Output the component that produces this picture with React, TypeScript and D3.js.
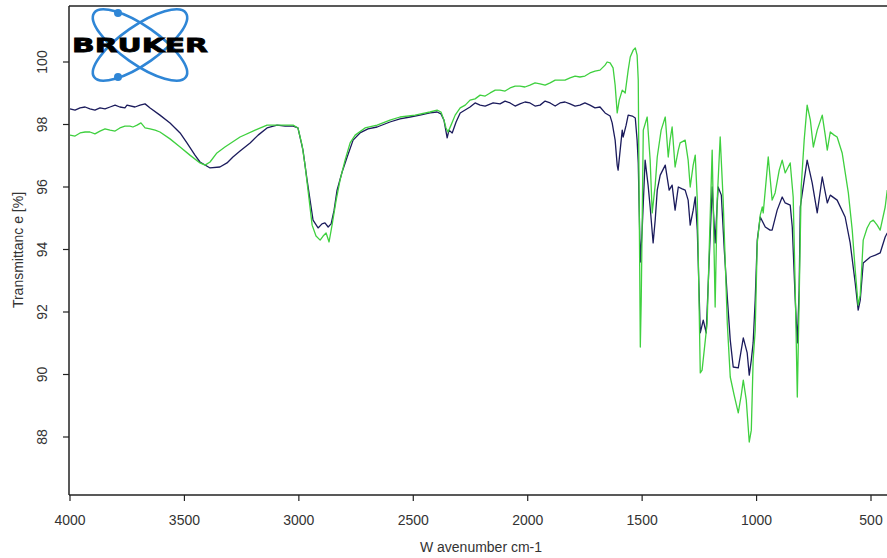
import React from 'react';
import * as d3 from 'd3';

// Wavenumber (cm-1) / transmittance (%) pairs for the two FTIR spectra
const spectrumNavy: [number, number][] = [
  [4000, 98.5], [3978, 98.46], [3956, 98.53], [3934, 98.56], [3913, 98.5], [3891, 98.46],
  [3869, 98.53], [3847, 98.5], [3825, 98.56], [3803, 98.62], [3782, 98.56], [3760, 98.53],
  [3751, 98.62], [3716, 98.56], [3694, 98.62], [3672, 98.66], [3650, 98.53], [3607, 98.3],
  [3563, 98.05], [3519, 97.73], [3489, 97.41], [3454, 97.02], [3432, 96.8], [3388, 96.61],
  [3345, 96.64], [3314, 96.77], [3288, 96.96], [3257, 97.15], [3213, 97.41], [3178, 97.66],
  [3139, 97.89], [3095, 97.98], [3060, 97.95], [3025, 97.95], [3004, 97.89], [2982, 97.18],
  [2964, 96.22], [2938, 94.94], [2916, 94.69], [2899, 94.82], [2886, 94.85], [2872, 94.72],
  [2859, 94.82], [2846, 95.26], [2833, 95.9], [2811, 96.48], [2789, 96.96], [2763, 97.5],
  [2733, 97.73], [2698, 97.86], [2658, 97.92], [2602, 98.08], [2558, 98.18], [2514, 98.24],
  [2471, 98.3], [2427, 98.37], [2396, 98.4], [2379, 98.34], [2366, 98.14], [2352, 97.57],
  [2344, 97.82], [2330, 97.73], [2313, 98.08], [2295, 98.37], [2252, 98.56], [2230, 98.69],
  [2208, 98.62], [2186, 98.59], [2151, 98.69], [2121, 98.66], [2099, 98.75], [2077, 98.69],
  [2055, 98.59], [2034, 98.66], [2012, 98.72], [1990, 98.69], [1968, 98.59], [1946, 98.62],
  [1924, 98.75], [1902, 98.69], [1880, 98.59], [1859, 98.69], [1837, 98.72], [1815, 98.66],
  [1793, 98.59], [1772, 98.62], [1750, 98.69], [1728, 98.62], [1706, 98.53], [1684, 98.56],
  [1662, 98.37], [1640, 98.27], [1631, 98.05], [1618, 97.5], [1609, 96.7], [1605, 96.54],
  [1596, 97.18], [1587, 97.82], [1583, 97.6], [1570, 97.98], [1561, 98.3], [1543, 98.27],
  [1530, 98.21], [1522, 97.5], [1517, 96.77], [1508, 93.6], [1500, 94.62], [1487, 96.86],
  [1474, 96.06], [1465, 95.36], [1452, 94.21], [1443, 94.94], [1434, 95.9], [1421, 96.38],
  [1399, 96.7], [1382, 95.9], [1369, 96.06], [1356, 95.26], [1342, 96.0], [1325, 95.94],
  [1312, 95.9], [1299, 95.58], [1290, 94.78], [1277, 95.26], [1268, 95.68], [1259, 94.62],
  [1246, 91.33], [1233, 91.74], [1220, 91.33], [1207, 93.66], [1194, 96.0], [1181, 94.21],
  [1168, 96.0], [1154, 95.74], [1141, 93.98], [1128, 92.48], [1115, 91.1], [1102, 90.24],
  [1080, 90.21], [1058, 91.17], [1041, 90.69], [1032, 89.98], [1023, 90.46], [1015, 91.01],
  [1006, 92.38], [997, 94.3], [984, 95.04], [962, 94.72], [941, 94.62], [932, 94.62],
  [910, 95.26], [888, 95.68], [875, 95.49], [853, 95.42], [844, 94.72], [831, 92.38],
  [822, 91.01], [814, 92.7], [809, 95.36], [792, 96.22], [779, 96.86], [757, 96.13],
  [735, 95.17], [713, 96.32], [691, 95.49], [678, 95.74], [648, 95.58], [613, 95.04],
  [591, 94.21], [569, 92.93], [556, 92.06], [547, 92.38], [534, 93.57], [503, 93.76],
  [481, 93.82], [460, 93.89], [438, 94.4], [429, 94.53],
];

const spectrumGreen: [number, number][] = [
  [4000, 97.66], [3978, 97.63], [3956, 97.73], [3934, 97.76], [3913, 97.76], [3891, 97.7],
  [3869, 97.79], [3847, 97.86], [3825, 97.82], [3803, 97.79], [3782, 97.89], [3760, 97.95],
  [3738, 97.95], [3725, 97.92], [3707, 97.98], [3690, 98.05], [3672, 97.89], [3650, 97.86],
  [3628, 97.82], [3607, 97.76], [3563, 97.54], [3519, 97.28], [3476, 97.02], [3432, 96.77],
  [3410, 96.7], [3388, 96.8], [3358, 97.09], [3323, 97.28], [3257, 97.6], [3191, 97.82],
  [3139, 97.98], [3082, 97.98], [3025, 97.98], [3004, 97.89], [2986, 97.34], [2973, 96.7],
  [2960, 95.9], [2942, 94.78], [2925, 94.43], [2907, 94.3], [2894, 94.43], [2881, 94.53],
  [2868, 94.24], [2855, 94.78], [2837, 95.58], [2820, 96.22], [2798, 96.86], [2776, 97.41],
  [2754, 97.66], [2711, 97.89], [2658, 97.98], [2602, 98.14], [2558, 98.24], [2492, 98.3],
  [2427, 98.4], [2396, 98.46], [2379, 98.4], [2366, 98.14], [2357, 97.89], [2348, 97.76],
  [2335, 97.98], [2317, 98.3], [2295, 98.53], [2273, 98.62], [2252, 98.78], [2230, 98.82],
  [2208, 98.94], [2186, 98.91], [2164, 99.01], [2142, 99.1], [2121, 99.1], [2099, 99.07],
  [2077, 99.17], [2055, 99.23], [2034, 99.23], [2012, 99.2], [1990, 99.26], [1968, 99.33],
  [1946, 99.3], [1924, 99.26], [1902, 99.33], [1880, 99.42], [1859, 99.42], [1837, 99.42],
  [1815, 99.49], [1793, 99.55], [1772, 99.52], [1750, 99.55], [1728, 99.65], [1706, 99.71],
  [1684, 99.74], [1662, 99.9], [1653, 100.0], [1640, 99.97], [1627, 99.81], [1618, 99.26],
  [1609, 98.37], [1600, 98.78], [1587, 99.1], [1574, 99.01], [1561, 99.74], [1552, 100.16],
  [1539, 100.38], [1530, 100.45], [1522, 100.22], [1517, 99.42], [1513, 95.58], [1508, 90.88],
  [1504, 92.38], [1495, 97.82], [1478, 98.24], [1465, 96.86], [1456, 95.17], [1443, 96.06],
  [1434, 96.96], [1417, 97.82], [1399, 98.24], [1386, 96.96], [1378, 97.5], [1369, 97.92],
  [1356, 96.64], [1342, 97.18], [1334, 97.41], [1312, 97.5], [1299, 96.86], [1290, 96.0],
  [1277, 96.7], [1268, 97.02], [1259, 95.58], [1246, 90.05], [1238, 90.14], [1224, 91.1],
  [1216, 91.65], [1207, 93.98], [1194, 97.18], [1181, 92.16], [1172, 95.58], [1159, 97.6],
  [1146, 95.58], [1128, 91.65], [1115, 89.92], [1098, 89.34], [1080, 88.77], [1067, 89.34],
  [1058, 89.82], [1045, 89.18], [1032, 87.84], [1023, 88.22], [1015, 90.46], [1006, 91.42],
  [997, 94.21], [984, 95.1], [975, 95.36], [971, 95.17], [958, 96.22], [949, 96.96],
  [932, 95.58], [919, 95.81], [901, 96.54], [888, 96.86], [875, 96.45], [853, 96.77],
  [840, 95.68], [831, 92.7], [822, 89.28], [814, 92.38], [805, 96.0], [792, 97.5],
  [779, 98.62], [765, 98.14], [752, 97.28], [735, 97.82], [713, 98.3], [700, 97.66],
  [691, 97.18], [678, 97.76], [661, 97.66], [648, 97.6], [626, 97.09], [599, 95.81],
  [582, 94.62], [569, 93.34], [556, 92.22], [547, 92.54], [534, 94.3], [517, 94.69],
  [503, 94.88], [490, 94.94], [473, 94.78], [460, 94.62], [438, 95.36], [429, 95.9],
];

const xTickValues = [4000, 3500, 3000, 2500, 2000, 1500, 1000, 500];
const yTickValues = [88, 90, 92, 94, 96, 98, 100];
const xTitle = 'W avenumber cm-1';
const yTitle = 'Transmittanc e [%]';
const brand = 'BRUKER';

const WIDTH = 887;
const HEIGHT = 558;
const plotLeft = 69;
const plotTop = 6;
const plotBottom = 495;
const plotRight = 900;

const x = d3.scaleLinear().domain([4000, 500]).range([70, 871]);
const y = d3.scaleLinear().domain([88, 100]).range([437, 62]);

const line = d3
  .line<[number, number]>()
  .x((d) => x(d[0]))
  .y((d) => y(d[1]))
  .curve(d3.curveLinear);

const byWavenumber = (a: [number, number], b: [number, number]) => b[0] - a[0];

const tickFont = '"Liberation Sans Narrow", "Liberation Sans", Arial, sans-serif';

function Logo() {
  const cx = 140;
  const cy = 45;
  return (
    <g>
      <ellipse cx={cx} cy={cy} rx={56} ry={19} fill="none" stroke="#2f86d6" strokeWidth={2.6}
        transform={`rotate(35 ${cx} ${cy})`} />
      <ellipse cx={cx} cy={cy} rx={56} ry={19} fill="none" stroke="#2f86d6" strokeWidth={2.6}
        transform={`rotate(-35 ${cx} ${cy})`} />
      <circle cx={118} cy={13} r={4} fill="#2f86d6" />
      <circle cx={118} cy={77} r={4} fill="#2f86d6" />
      <text x={72} y={52} fontFamily='"DejaVu Sans", Arial, sans-serif' fontWeight={900}
        fontSize={20} fill="#000" textLength={136} lengthAdjust="spacingAndGlyphs"
        stroke="#000" strokeWidth={0.8}>
        {brand}
      </text>
    </g>
  );
}

export default function App() {
  const navy = [...spectrumNavy].sort(byWavenumber);
  const green = [...spectrumGreen].sort(byWavenumber);
  return (
    <svg width={WIDTH} height={HEIGHT} style={{ position: 'absolute', left: 0, top: 0, background: '#fff' }}>
      <defs>
        <clipPath id="plot-area">
          <rect x={plotLeft} y={plotTop} width={plotRight - plotLeft} height={plotBottom - plotTop} />
        </clipPath>
      </defs>
      <rect x={0} y={0} width={WIDTH} height={HEIGHT} fill="#fff" />
      <Logo />
      <g clipPath="url(#plot-area)" fill="none" strokeLinejoin="round">
        <path d={line(navy) ?? ''} stroke="#1b1b5c" strokeWidth={1.3} />
        <path d={line(green) ?? ''} stroke="#3fd03f" strokeWidth={1.3} />
      </g>
      {/* frame */}
      <g stroke="#222" strokeWidth={1.5} fill="none">
        <line x1={plotLeft} x2={WIDTH} y1={plotTop} y2={plotTop} />
        <line x1={plotLeft} x2={plotLeft} y1={plotTop} y2={plotBottom} />
        <line x1={plotLeft} x2={WIDTH} y1={plotBottom} y2={plotBottom} />
      </g>
      {/* y axis */}
      {yTickValues.map((v) => (
        <g key={`y${v}`}>
          <line x1={plotLeft - 6} x2={plotLeft} y1={y(v)} y2={y(v)} stroke="#222" strokeWidth={1.2} />
          <text x={42} y={y(v)} transform={`rotate(-90 42 ${y(v)})`} textAnchor="middle"
            dominantBaseline="central" fontFamily={tickFont} fontSize={14} fill="#333">
            {v}
          </text>
        </g>
      ))}
      {/* x axis */}
      {xTickValues.map((v) => (
        <g key={`x${v}`}>
          <line x1={x(v)} x2={x(v)} y1={plotBottom} y2={plotBottom + 6} stroke="#222" strokeWidth={1.2} />
          <text x={x(v)} y={520} textAnchor="middle" dominantBaseline="central" fontFamily={tickFont}
            fontSize={14} fill="#333">
            {v}
          </text>
        </g>
      ))}
      <text x={481} y={547} textAnchor="middle" dominantBaseline="central" fontFamily={tickFont}
        fontSize={14} fill="#333">
        {xTitle}
      </text>
      <text x={18} y={250} transform="rotate(-90 18 250)" textAnchor="middle" dominantBaseline="central"
        fontFamily={tickFont} fontSize={14} fill="#333">
        {yTitle}
      </text>
    </svg>
  );
}
